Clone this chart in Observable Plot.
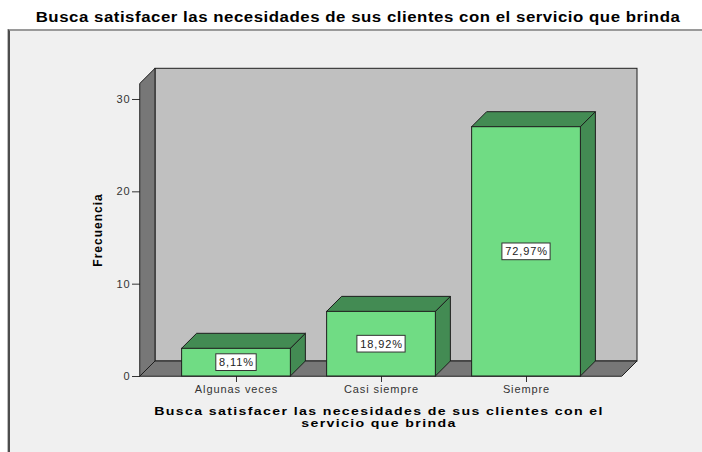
<!DOCTYPE html>
<html>
<head>
<meta charset="utf-8">
<script src="https://cdn.jsdelivr.net/npm/d3@7"></script>
<script src="https://cdn.jsdelivr.net/npm/@observablehq/plot@0.6"></script>
<style>
  html, body { margin: 0; padding: 0; background: #ffffff; }
  #wrap { position: relative; width: 702px; height: 452px; overflow: hidden; font-family: "Liberation Sans", Arial, sans-serif; }
  #panel { position: absolute; left: 8px; top: 29px; width: 710px; height: 440px; background: #f0f0f0;
           border-left: 2px solid #4d4d4d; border-top: 2px solid #9a9a9a; box-shadow: -1px 0 0 #bdbdbd; }
  #chart { position: absolute; left: 0; top: 0; }
  #title { position: absolute; left: 0; top: 10px; width: 716px; text-align: center; font-weight: bold;
           font-size: 14px; line-height: 14px; letter-spacing: 0.45px; color: #000; white-space: nowrap;
           transform: scaleX(1.2); transform-origin: 358px 0; }
  #xtitle { position: absolute; left: 129px; top: 404.5px; width: 500px; text-align: center; font-weight: bold;
            font-size: 11.5px; line-height: 12px; letter-spacing: 1.1px; color: #000; white-space: nowrap;
            transform: scaleX(1.23); transform-origin: 250px 0; }
  #ytitle { position: absolute; left: 98px; top: 229.5px; transform: translate(-50%, -50%) rotate(-90deg);
            font-weight: bold; font-size: 12px; letter-spacing: 1px; color: #000; white-space: nowrap; line-height: 12px; }
</style>
</head>
<body>
<div id="wrap">
  <div id="panel"></div>
  <div id="title">Busca satisfacer las necesidades de sus clientes con el servicio que brinda</div>
  <div id="chart"></div>
  <div id="ytitle">Frecuencia</div>
  <div id="xtitle">Busca satisfacer las necesidades de sus clientes con el<br>servicio que brinda</div>
</div>
<script>
// ---- data ----
const categories = ["Algunas veces", "Casi siempre", "Siempre"];
const frequencies = [3, 7, 27];
const percentLabels = ["8,11%", "18,92%", "72,97%"];
const yTicks = [0, 10, 20, 30];

// ---- layout / style constants ----
const W = 702, H = 452;
const M = {left: 140, right: 80, top: 83.3, bottom: 76};
const X_MIN = -0.662, X_MAX = 2.662, Y_MAX = 31.7;
const HALF = 0.375;            // half bar width in band units
const DEPTH = 15;              // 3D depth in px
const kx = (W - M.left - M.right) / (X_MAX - X_MIN);
const ky = (H - M.top - M.bottom) / Y_MAX;
const DX = DEPTH / kx, DY = DEPTH / ky;

const EDGE = "#1e1e1e", WALL = "#777777", BACK = "#c0c0c0", FRONT = "#70dc84", DARK = "#438b53";
const FONT = "11px 'Liberation Sans', Arial, sans-serif", LS = 0.9;

const bars = categories.map((c, i) => ({i, c, v: frequencies[i], label: percentLabels[i]}));

// faces
const topPts = bars.flatMap(d => [
  {i: d.i, y: d.v, x1: d.i - HALF, x2: d.i + HALF},
  {i: d.i, y: d.v + DY, x1: d.i - HALF + DX, x2: d.i + HALF + DX}
]);
const sidePts = bars.flatMap(d => [
  {i: d.i, x: d.i + HALF, y1: 0, y2: d.v},
  {i: d.i, x: d.i + HALF + DX, y1: DY, y2: d.v + DY}
]);

// label boxes sized from measured text
const ctx = document.createElement("canvas").getContext("2d");
ctx.font = FONT;
const boxes = bars.map(d => {
  const w = ctx.measureText(d.label).width + LS * d.label.length + 5.5;
  return {i: d.i, x1: d.i - w / 2 / kx, x2: d.i + w / 2 / kx, y1: d.v / 2 - 8.35 / ky, y2: d.v / 2 + 8.35 / ky};
});

const chart = Plot.plot({
  width: W, height: H,
  marginLeft: M.left, marginRight: M.right, marginTop: M.top, marginBottom: M.bottom,
  style: {background: "transparent", fontFamily: "'Liberation Sans', Arial, sans-serif", fontSize: "11px", color: "#333", letterSpacing: LS + "px"},
  x: {domain: [X_MIN, X_MAX], ticks: bars.map(d => d.i), tickFormat: i => categories[i], tickSize: 6, tickPadding: 3, label: null},
  y: {domain: [0, Y_MAX], ticks: yTicks, tickSize: 8, tickPadding: 2, label: null},
  marks: [
    // back wall
    Plot.rect([{x1: X_MIN + DX, x2: X_MAX + DX, y1: DY, y2: Y_MAX + DY}], {x1: "x1", x2: "x2", y1: "y1", y2: "y2", fill: BACK, stroke: EDGE}),
    // left wall
    Plot.areaY([{x: X_MIN, y1: 0, y2: Y_MAX}, {x: X_MIN + DX, y1: DY, y2: Y_MAX + DY}], {x: "x", y1: "y1", y2: "y2", fill: WALL, stroke: EDGE}),
    // floor
    Plot.areaX([{y: 0, x1: X_MIN, x2: X_MAX}, {y: DY, x1: X_MIN + DX, x2: X_MAX + DX}], {y: "y", x1: "x1", x2: "x2", fill: WALL, stroke: EDGE}),
    // bar side and top faces
    Plot.areaY(sidePts, {x: "x", y1: "y1", y2: "y2", z: "i", fill: DARK, stroke: EDGE}),
    Plot.areaX(topPts, {y: "y", x1: "x1", x2: "x2", z: "i", fill: DARK, stroke: EDGE}),
    // bar fronts
    Plot.rect(bars, {x1: d => d.i - HALF, x2: d => d.i + HALF, y1: 0, y2: "v", fill: FRONT, stroke: EDGE}),
    // percentage labels
    Plot.rect(boxes, {x1: "x1", x2: "x2", y1: "y1", y2: "y2", fill: "#ffffff", stroke: "#333"}),
    Plot.text(bars, {x: "i", y: d => d.v / 2, text: "label", fill: "#222", fontSize: 11})
  ]
});
document.getElementById("chart").appendChild(chart);
</script>
</body>
</html>
